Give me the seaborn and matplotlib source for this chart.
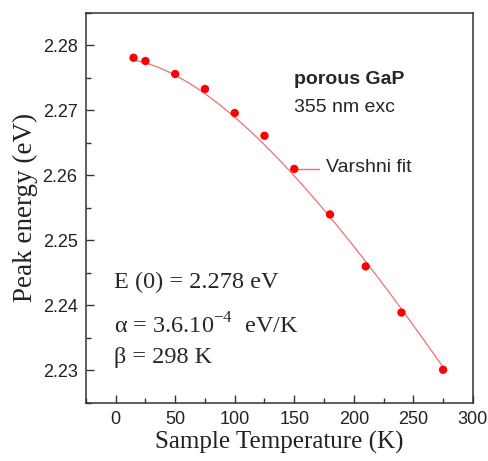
import numpy as np
import pandas as pd
import matplotlib
matplotlib.use('Agg')
import matplotlib.pyplot as plt
from matplotlib.ticker import MultipleLocator
import seaborn as sns

# measured peak energies
temps = [15, 25, 50, 75, 100, 125, 150, 180, 210, 240, 275]
energy = [2.2781, 2.2776, 2.2756, 2.2733, 2.2696, 2.2661, 2.2610, 2.2540, 2.2460, 2.2389, 2.2301]

# Varshni parameters shown on the chart
E0 = 2.278
alpha = 3.6e-4
beta = 298

sns.set_style('ticks')
plt.rcParams['font.family'] = ['Liberation Sans', 'DejaVu Sans']
plt.rcParams['mathtext.fontset'] = 'custom'
plt.rcParams['mathtext.rm'] = 'Liberation Serif'

df = pd.DataFrame({'T': temps, 'E': energy})
T_fit = np.linspace(15, 275, 200)
fit = pd.DataFrame({'T': T_fit, 'E': E0 - alpha * T_fit**2 / (T_fit + beta)})

fig, ax = plt.subplots(figsize=(4.88, 4.61), dpi=100)
fig.subplots_adjust(left=0.176, right=0.969, top=0.972, bottom=0.126)

sns.lineplot(data=fit, x='T', y='E', ax=ax, color='#f07070', lw=0.9)
sns.scatterplot(data=df, x='T', y='E', ax=ax, color='#ff0000', s=36, edgecolor='none', zorder=3)

ax.set_xlim(-25, 300)
ax.set_ylim(2.225, 2.285)
ax.xaxis.set_major_locator(MultipleLocator(50))
ax.xaxis.set_minor_locator(MultipleLocator(25))
ax.yaxis.set_major_locator(MultipleLocator(0.01))
ax.yaxis.set_minor_locator(MultipleLocator(0.005))
ax.yaxis.set_major_formatter(matplotlib.ticker.FormatStrFormatter('%.2f'))
ax.tick_params(which='both', direction='in', labelsize=13, color='#333333', labelcolor='#222222')
ax.tick_params(which='major', length=6, width=1, pad=6)
ax.tick_params(which='minor', length=3.5, width=1)
for s in ax.spines.values():
    s.set_linewidth(1.1)
    s.set_color('#333333')

serif = ['Liberation Serif', 'DejaVu Serif']
ax.set_xlabel('Sample Temperature (K)', family=serif, fontsize=18, color='#222222', labelpad=2)
ax.set_ylabel('Peak energy (eV)', family=serif, fontsize=19.5, color='#222222', labelpad=3)

ax.text(149.5, 2.2747, 'porous GaP', fontsize=14, fontweight='bold', va='center')
ax.text(149.5, 2.2705, '355 nm exc', fontsize=14, va='center')

ax.plot([150, 170.5], [2.2610, 2.2610], color='#f07070', lw=1)
ax.text(177, 2.2612, 'Varshni fit', fontsize=14, va='center')

ax.text(-1, 2.2435, 'E (0) = 2.278 eV', family=serif, fontsize=17.5, va='center')
ax.text(-1, 2.2368, 'α = 3.6.10$^{\\mathrm{-4}}$  eV/K', family=serif, fontsize=17.5, va='center')
ax.text(-1, 2.2320, 'β = 298 K', family=serif, fontsize=17.5, va='center')

plt.savefig('out.png', dpi=100)
